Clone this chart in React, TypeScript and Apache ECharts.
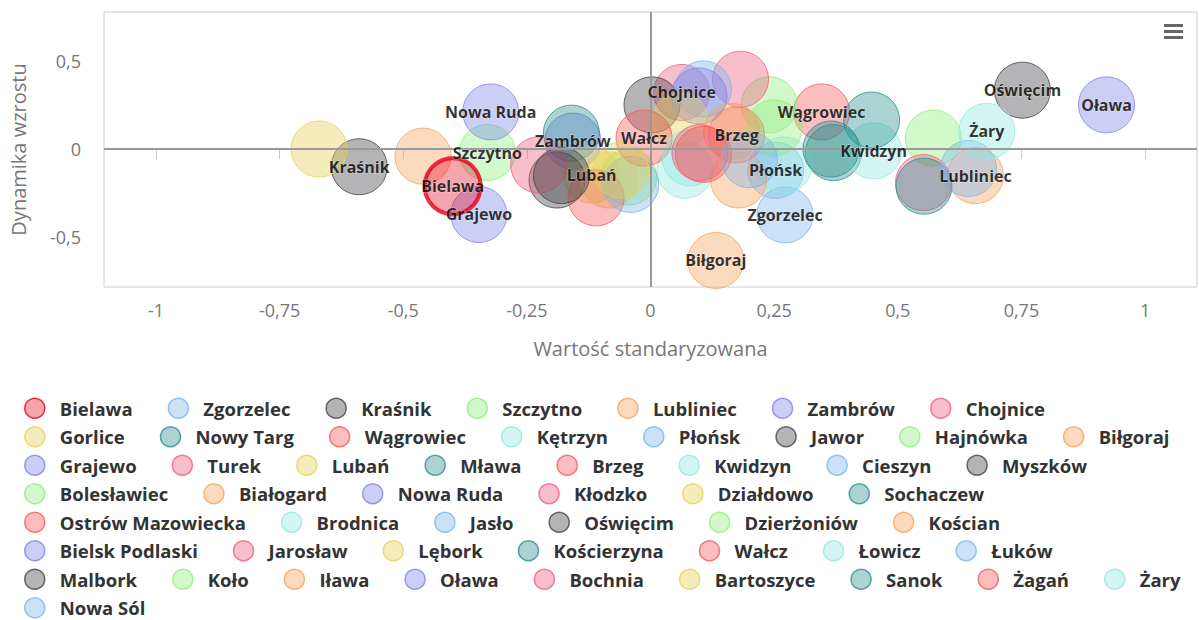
import React, { useEffect, useRef } from "react";
import * as echarts from "echarts";

const cities = [
  "Bielawa", "Zgorzelec", "Kraśnik", "Szczytno", "Lubliniec", "Zambrów", "Chojnice",
  "Gorlice", "Nowy Targ", "Wągrowiec", "Kętrzyn", "Płońsk", "Jawor", "Hajnówka", "Biłgoraj",
  "Grajewo", "Turek", "Lubań", "Mława", "Brzeg", "Kwidzyn", "Cieszyn", "Myszków",
  "Bolesławiec", "Białogard", "Nowa Ruda", "Kłodzko", "Działdowo", "Sochaczew",
  "Ostrów Mazowiecka", "Brodnica", "Jasło", "Oświęcim", "Dzierżoniów", "Kościan",
  "Bielsk Podlaski", "Jarosław", "Lębork", "Kościerzyna", "Wałcz", "Łowicz", "Łuków",
  "Malbork", "Koło", "Iława", "Oława", "Bochnia", "Bartoszyce", "Sanok", "Żagań", "Żary",
  "Nowa Sól",
];

const xValues = [
  -0.40, 0.272, -0.589, -0.33, 0.657, -0.157, 0.063,
  -0.67, -0.16, 0.346, 0.07, 0.253, 0.003, 0.24, 0.132,
  -0.347, 0.182, -0.119, 0.37, 0.174, 0.451, 0.107, -0.189,
  -0.044, -0.46, -0.323, -0.226, -0.084, 0.447,
  -0.11, 0.27, -0.04, 0.752, 0.572, 0.178,
  0.098, 0.552, 0.06, 0.553, -0.013, 0.08, 0.643,
  -0.18, 0.25, 0.164, 0.922, 0.1, -0.06, 0.365, 0.107, 0.68,
  0.2,
];

const yValues = [
  -0.21, -0.372, -0.10, -0.02, -0.15, 0.045, 0.32,
  0.0, 0.09, 0.21, -0.12, -0.12, 0.25, 0.25, -0.63,
  -0.37, 0.395, -0.147, -0.02, 0.08, -0.01, 0.34, -0.175,
  -0.158, -0.04, 0.21, -0.09, -0.175, 0.164,
  -0.276, -0.09, -0.2, 0.333, 0.062, -0.175,
  0.30, -0.19, 0.16, -0.21, 0.062, -0.05, -0.11,
  -0.15, 0.12, 0.1, 0.25, -0.02, -0.12, 0.0, -0.03, 0.1,
  -0.06,
];

const labeledCities = [
  "Kraśnik", "Nowa Ruda", "Szczytno", "Bielawa", "Grajewo", "Zambrów", "Lubań", "Wałcz",
  "Chojnice", "Brzeg", "Wągrowiec", "Płońsk", "Zgorzelec", "Biłgoraj", "Kwidzyn",
  "Oświęcim", "Oława", "Żary", "Lubliniec",
];

// number of legend entries on each legend row
const legendRowCounts = [7, 8, 8, 6, 6, 7, 9, 1];

const xTicks = [-1, -0.75, -0.5, -0.25, 0, 0.25, 0.5, 0.75, 1];
const yTicks = [-0.5, 0, 0.5];

const palette = [
  "#7cb5ec", "#434348", "#90ed7d", "#f7a35c", "#8085e9",
  "#f15c80", "#e4d354", "#2b908f", "#f45b5b", "#91e8e1",
];
const highlightColor = "#e3001b";

function rgba(hex: string, a: number) {
  const n = parseInt(hex.slice(1), 16);
  return `rgba(${(n >> 16) & 255},${(n >> 8) & 255},${n & 255},${a})`;
}

const fmt = (v: number) => String(v).replace(".", ",");
const FONT = "Open Sans";

export default function App() {
  const ref = useRef<HTMLDivElement>(null);

  useEffect(() => {
    const chart = echarts.init(ref.current!, null, { renderer: "svg" });

    const bubbleSeries: any[] = cities.map((name, i) => {
      const base = i === 0 ? highlightColor : palette[(i - 1) % palette.length];
      return {
        type: "scatter",
        name,
        z: i === 0 ? 3 : 2,
        symbol: "circle",
        symbolSize: 56,
        data: [[xValues[i], yValues[i]]],
        itemStyle: {
          color: rgba(base, i === 0 ? 0.45 : 0.5),
          borderColor: base,
          borderWidth: i === 0 ? 4 : 1,
        },
        emphasis: { disabled: true },
        silent: true,
      };
    });

    bubbleSeries[1].markLine = {
      silent: true,
      symbol: "none",
      label: { show: false },
      lineStyle: { color: "#9a9a9a", width: 2, type: "solid" },
      data: [{ xAxis: 0 }, { yAxis: 0 }],
    };

    const labelData = labeledCities.map((name) => {
      const i = cities.indexOf(name);
      return { name, value: [xValues[i], yValues[i]] };
    });

    const labelSeries = {
      type: "scatter",
      name: "__labels",
      z: 10,
      symbolSize: 1,
      itemStyle: { color: "transparent" },
      silent: true,
      data: labelData,
      label: {
        show: true,
        position: "inside",
        formatter: (p: any) => p.name,
        fontFamily: FONT,
        fontWeight: "bold",
        fontSize: 16,
        color: "#000",
        textBorderColor: "rgba(255,255,255,0.5)",
        textBorderWidth: 1,
      },
    };

    const legends: any[] = [];
    let start = 0;
    legendRowCounts.forEach((count, r) => {
      legends.push({
        data: cities.slice(start, start + count),
        left: 24,
        top: 397.5 + r * 28.5,
        width: 1400,
        padding: 0,
        icon: "circle",
        itemWidth: 20,
        itemHeight: 20,
        itemGap: 8,
        itemStyle: { borderWidth: 1.5 },
        textStyle: {
          fontFamily: FONT,
          fontSize: 18.5,
          fontWeight: "bold",
          color: "#333",
          lineHeight: 18,
          padding: [0, 27, 0, 10],
        },
        selectedMode: false,
      });
      start += count;
    });

    chart.setOption({
      animation: false,
      backgroundColor: "#fff",
      grid: {
        left: 104,
        right: 2,
        top: 12,
        bottom: 333,
        show: true,
        borderColor: "#cccccc",
        borderWidth: 1,
      },
      xAxis: {
        type: "value",
        min: -1.105,
        max: 1.105,
        splitLine: { show: false },
        axisLine: { show: false },
        axisTick: {
          show: true,
          length: 10,
          customValues: xTicks,
          lineStyle: { color: "#cccccc" },
        },
        axisLabel: {
          customValues: xTicks,
          formatter: (v: number) => fmt(v),
          margin: 14,
          fontFamily: FONT,
          fontSize: 18,
          color: "#777",
        },
        name: "Wartość standaryzowana",
        nameLocation: "middle",
        nameGap: 51,
        nameTextStyle: { fontFamily: FONT, fontSize: 20, color: "#777" },
      },
      yAxis: {
        type: "value",
        min: -0.78,
        max: 0.775,
        splitLine: { show: false },
        axisLine: { show: false },
        axisTick: { show: false },
        axisLabel: {
          customValues: yTicks,
          formatter: (v: number) => fmt(v),
          margin: 23,
          fontFamily: FONT,
          fontSize: 18,
          color: "#777",
        },
        name: "Dynamika wzrostu",
        nameLocation: "middle",
        nameGap: 76,
        nameRotate: 90,
        nameTextStyle: { fontFamily: FONT, fontSize: 20, color: "#777" },
      },
      legend: legends,
      graphic: [
        { type: "rect", shape: { x: 1164, y: 24, width: 19, height: 3 }, style: { fill: "#666" } },
        { type: "rect", shape: { x: 1164, y: 30, width: 19, height: 3 }, style: { fill: "#666" } },
        { type: "rect", shape: { x: 1164, y: 36, width: 19, height: 3 }, style: { fill: "#666" } },
      ],
      series: [...bubbleSeries, labelSeries],
    });

    return () => chart.dispose();
  }, []);

  return (
    <div
      ref={ref}
      style={{ position: "fixed", left: 0, top: 0, width: 1199, height: 620 }}
    />
  );
}
